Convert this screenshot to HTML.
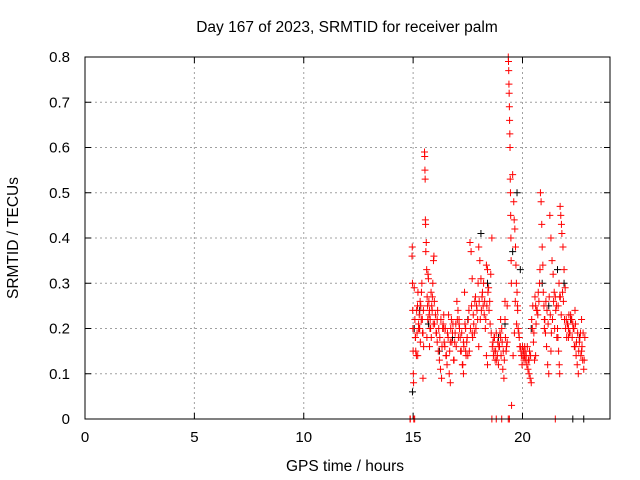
<!DOCTYPE html>
<html><head><meta charset="utf-8"><style>
body{margin:0;background:#fff}
svg{display:block;font-family:"Liberation Sans",sans-serif}
</style></head><body>
<svg id="chart" width="640" height="480" viewBox="0 0 640 480">
<rect width="640" height="480" fill="#fff"/>
<text x="347" y="32" font-size="15.5" text-anchor="middle">Day 167 of 2023, SRMTID for receiver palm</text>
<text x="345" y="471" font-size="15.5" text-anchor="middle">GPS time / hours</text>
<text transform="translate(18,238) rotate(-90)" font-size="15.5" text-anchor="middle">SRMTID / TECUs</text>
<g id="grid"></g><g id="ticks"></g><g id="black"></g><g id="red"></g>
<rect x="85" y="57" width="525" height="362" fill="none" stroke="#000" stroke-width="1"/>
</svg>
<script>
const xTicks=[0,5,10,15,20];
const yTicks=[0,0.1,0.2,0.3,0.4,0.5,0.6,0.7,0.8];
const yTickLabels=["0","0.1","0.2","0.3","0.4","0.5","0.6","0.7","0.8"];
const redT=[14.86,14.87,14.95,14.96,14.97,14.98,14.99,15.0,15.01,15.02,15.05,15.08,15.1,15.12,15.15,15.18,15.2,15.22,15.25,15.28,15.3,15.33,15.35,15.38,15.4,15.42,15.45,15.48,15.52,15.53,15.54,15.55,15.56,15.57,15.58,15.6,15.62,15.64,15.66,15.68,15.7,15.72,15.75,15.78,15.8,15.83,15.85,15.88,15.9,15.93,15.95,15.98,16.05,16.1,16.15,16.2,16.25,16.3,16.35,16.4,16.45,16.5,16.55,16.6,16.65,16.7,16.75,16.8,16.85,16.9,16.95,17.0,17.05,17.1,17.15,17.2,17.25,17.3,17.35,17.4,17.45,17.5,17.55,17.6,17.65,17.7,17.75,17.8,17.85,17.9,17.95,18.0,18.05,18.1,18.15,18.2,18.25,18.3,18.35,18.4,18.45,18.5,18.55,18.6,18.65,18.7,18.75,18.8,18.85,18.9,18.95,19.0,19.05,19.1,19.15,19.2,19.25,19.3,19.35,19.36,19.37,19.38,19.39,19.4,19.41,19.42,19.43,19.44,19.45,19.46,19.47,19.48,19.49,19.3,19.5,19.55,19.6,19.62,19.65,19.68,19.7,19.72,19.75,19.78,19.8,19.85,19.9,19.95,20.0,20.05,20.1,20.15,20.2,20.25,20.3,20.35,20.4,20.45,20.5,20.55,20.6,20.65,20.7,20.75,20.78,20.8,20.82,20.85,20.88,20.9,20.93,20.95,20.98,21.0,21.05,21.1,21.15,21.2,21.25,21.3,21.35,21.4,21.45,21.5,21.55,21.6,21.62,21.65,21.68,21.7,21.72,21.75,21.78,21.8,21.85,21.9,21.95,22.0,22.05,22.1,22.15,22.2,22.25,22.3,22.35,22.4,22.45,22.5,22.55,22.6,22.65,22.7,22.75,22.8,22.85,15.25,15.45,15.75,16.1,16.4,16.7,17.1,17.4,17.7,18.0,18.4,18.7,19.0,19.2,20.1,20.3,20.6,21.0,21.3,21.7,22.1,22.4,22.7,17.3,18.35,18.6,18.8,19.05,19.35,19.4,21.5,
15.03,15.07,15.11,15.16,15.21,15.27,15.32,15.37,15.43,15.47,15.63,15.67,15.73,15.77,15.82,15.87,15.92,15.97,16.02,16.07,16.12,16.17,16.22,16.27,16.32,16.37,16.42,16.47,16.52,16.57,16.62,16.67,16.72,16.77,16.82,16.87,16.92,16.97,17.02,17.07,17.12,17.17,17.22,17.27,17.32,17.37,17.42,17.47,17.52,17.57,17.62,17.67,17.72,17.77,17.82,17.87,17.92,17.97,18.02,18.07,18.12,18.17,18.22,18.27,18.32,18.37,18.42,18.47,18.52,18.57,18.62,18.67,18.72,18.77,18.82,18.87,18.92,18.97,19.02,19.07,19.12,19.17,19.22,19.27,19.57,19.63,19.67,19.73,19.77,19.83,19.88,19.93,19.98,20.02,20.07,20.12,20.17,20.22,20.27,20.32,20.37,20.42,20.47,20.52,20.57,20.62,20.67,20.72,21.02,21.07,21.12,21.17,21.22,21.27,21.32,21.37,21.42,21.47,21.52,21.57,21.63,21.67,21.73,21.77,21.83,21.87,21.92,21.97,22.02,22.07,22.12,22.17,22.22,22.27,22.32,22.37,22.42,22.47,22.52,22.57,22.62,22.67,22.72,22.77,22.82];
const redV=[0,0,0.36,0.38,0.3,0.24,0.2,0.15,0.1,0.08,0.29,0.22,0.18,0.15,0.14,0.19,0.25,0.28,0.21,0.23,0.2,0.17,0.25,0.28,0.3,0.22,0.19,0.16,0.59,0.58,0.55,0.53,0.44,0.43,0.37,0.39,0.33,0.27,0.25,0.32,0.31,0.26,0.24,0.22,0.2,0.18,0.25,0.27,0.3,0.35,0.36,0.21,0.19,0.17,0.15,0.13,0.11,0.09,0.2,0.23,0.16,0.14,0.12,0.18,0.1,0.08,0.22,0.19,0.13,0.17,0.21,0.26,0.24,0.22,0.18,0.15,0.12,0.1,0.28,0.2,0.17,0.14,0.24,0.39,0.37,0.31,0.23,0.19,0.27,0.25,0.22,0.38,0.35,0.31,0.27,0.25,0.23,0.2,0.34,0.33,0.29,0.26,0.32,0.4,0.17,0.15,0.13,0.19,0.14,0.12,0.16,0.18,0.2,0.11,0.09,0.22,0.15,0.17,0.8,0.79,0.77,0.74,0.72,0.69,0.66,0.63,0.6,0.53,0.5,0.45,0.4,0.35,0.3,0.25,0.03,0.54,0.48,0.44,0.42,0.38,0.34,0.3,0.28,0.24,0.2,0.18,0.16,0.14,0.16,0.15,0.14,0.13,0.12,0.11,0.1,0.09,0.08,0.2,0.17,0.13,0.25,0.24,0.23,0.26,0.3,0.33,0.5,0.48,0.43,0.38,0.34,0.28,0.25,0.22,0.19,0.16,0.12,0.1,0.45,0.4,0.35,0.32,0.28,0.27,0.25,0.2,0.18,0.15,0.12,0.1,0.47,0.45,0.43,0.41,0.38,0.33,0.29,0.22,0.21,0.2,0.19,0.23,0.22,0.21,0.2,0.16,0.14,0.12,0.1,0.17,0.19,0.15,0.13,0.11,0.18,0.2,0.09,0.16,0.22,0.2,0.17,0.21,0.15,0.19,0.16,0.12,0.18,0.22,0.26,0.16,0.13,0.14,0.2,0.15,0.27,0.18,0.24,0.22,0.17,0.14,0,0,0,0,0,0,0,0,
0.18,0.24,0.14,0.2,0.26,0.22,0.19,0.24,0.18,0.22,0.23,0.2,0.28,0.24,0.21,0.26,0.23,0.19,0.24,0.2,0.18,0.22,0.16,0.21,0.17,0.2,0.14,0.19,0.23,0.15,0.2,0.17,0.21,0.13,0.19,0.16,0.22,0.18,0.2,0.15,0.19,0.12,0.16,0.21,0.14,0.18,0.22,0.15,0.2,0.25,0.18,0.21,0.26,0.2,0.24,0.3,0.26,0.22,0.24,0.28,0.3,0.26,0.22,0.25,0.28,0.24,0.21,0.19,0.16,0.14,0.18,0.15,0.13,0.17,0.16,0.19,0.14,0.17,0.15,0.13,0.18,0.16,0.14,0.19,0.26,0.21,0.25,0.19,0.16,0.15,0.12,0.14,0.13,0.15,0.14,0.16,0.13,0.15,0.14,0.22,0.25,0.19,0.27,0.21,0.24,0.28,0.22,0.26,0.24,0.21,0.27,0.23,0.19,0.22,0.26,0.2,0.24,0.18,0.25,0.3,0.27,0.23,0.28,0.26,0.22,0.2,0.18,0.21,0.23,0.19,0.22,0.18,0.2,0.16,0.21,0.17,0.19,0.15,0.18,0.14,0.16,0.19,0.13,0.17,0.15];
const blackT=[14.97,15.05,15.3,15.7,16.2,16.8,17.5,18.1,18.4,18.9,19.2,19.55,19.75,19.9,20.4,20.9,21.2,21.6,21.9,22.2,22.6,22.3,22.8];
const blackV=[0.06,0.2,0.24,0.21,0.15,0.18,0.22,0.41,0.3,0.18,0.21,0.37,0.5,0.33,0.2,0.3,0.25,0.33,0.3,0.22,0.18,0,0];
const X=t=>85+t*(525/24), Y=v=>419-v*(362/0.8);
const NS="http://www.w3.org/2000/svg";
function mk(tag,attrs,parent){const e=document.createElementNS(NS,tag);for(const k in attrs)e.setAttribute(k,attrs[k]);document.getElementById(parent).appendChild(e);return e;}
xTicks.forEach(t=>{const x=X(t);
 if(t>0){const g=mk('line',{x1:x,y1:57,x2:x,y2:419,stroke:'#a0a0a0','stroke-dasharray':'2,3'},'grid');
 
 }
 const l=mk('text',{x:x,y:442,'font-size':15,'text-anchor':'middle'},'ticks');l.textContent=t;
 
 
 mk('line',{x1:x,y1:419,x2:x,y2:413,stroke:'#000'},'ticks');mk('line',{x1:x,y1:57,x2:x,y2:63,stroke:'#000'},'ticks');});
yTicks.forEach((v,i)=>{const y=Y(v);
 if(i>0&&i<yTicks.length-1){const g=mk('line',{x1:85,y1:y,x2:610,y2:y,stroke:'#a0a0a0','stroke-dasharray':'2,3'},'grid');
 
 }
 const l=mk('text',{x:70,y:y+5,'font-size':15,'text-anchor':'end'},'ticks');l.textContent=yTickLabels[i];
 
 
 mk('line',{x1:85,y1:y,x2:91,y2:y,stroke:'#000'},'ticks');mk('line',{x1:610,y1:y,x2:604,y2:y,stroke:'#000'},'ticks');});
function plot(T,V,col,grp){T.forEach((t,i)=>{const x=X(t),y=Y(V[i]);
 const p=mk('path',{d:`M${x-3.5},${y}h7M${x},${y-3.5}v7`,stroke:col,'stroke-width':1,fill:'none'},grp);
 
 });}
plot(blackT,blackV,'#000','black');
plot(redT,redV,'#ff0000','red');
</script>
</body></html>
